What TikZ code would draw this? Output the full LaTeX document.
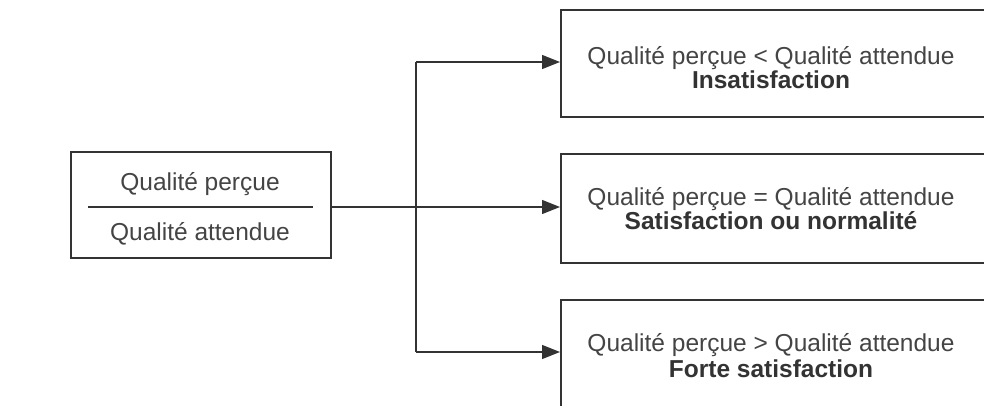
\documentclass[tikz,border=0pt]{standalone}
\usepackage{fontspec}
\setmainfont{Liberation Sans}
\usetikzlibrary{arrows.meta}
\definecolor{ink}{HTML}{333333}
\definecolor{txt}{HTML}{444444}
\tikzset{
  box/.style={draw=ink, line width=2pt, anchor=west, inner sep=0pt},
  label/.style={anchor=base, inner sep=0pt, text=txt, font=\fontsize{24.5}{26}\selectfont},
  strong/.style={label, text=ink, font=\fontsize{24.5}{26}\selectfont\bfseries},
  link/.style={draw=ink, line width=1.4pt},
  arrow/.style={link, -{Triangle[length=18pt,width=14pt]}}
}
\begin{document}
\begin{tikzpicture}[x=1pt,y=-1pt]
  \useasboundingbox (0,0) rectangle (984,406);
  \clip (0,0) rectangle (984,406);
  \fill[white] (0,0) rectangle (984,406);

  % ratio box on the left
  \node[box, minimum width=260pt, minimum height=106pt] (ratio) at (70,205) {};
  \node[label] (num) at (200,190) {Qualité perçue};
  \node[label] (den) at (200,240) {Qualité attendue};
  \coordinate (barL) at (88,207);
  \coordinate (barR) at (313,207);
  \draw[ink, line width=2.6pt] (barL) -- (barR);

  % outcome boxes, running off the right edge
  \node[box, minimum width=430pt, minimum height=107pt] (low) at (560,63.5) {};
  \node[box, minimum width=430pt, minimum height=109pt] (equal) at (560,208.5) {};
  \node[box, minimum width=430pt, minimum height=112pt] (high) at (560,356) {};

  \node[label] (lowA) at (771,65) {Qualité perçue < Qualité attendue};
  \node[strong] (lowB) at (771,89) {Insatisfaction};
  \node[label] (eqA) at (771,205) {Qualité perçue = Qualité attendue};
  \node[strong] (eqB) at (771,229) {Satisfaction ou normalité};
  \node[label] (hiA) at (771,351) {Qualité perçue > Qualité attendue};
  \node[strong] (hiB) at (771,377) {Forte satisfaction};

  % connectors
  \coordinate (split) at (416,207);
  \coordinate (upper) at (416,62);
  \coordinate (lower) at (416,352);
  \draw[arrow] (ratio.east |- split) -- (equal.west |- split);
  \draw[link] (upper) -- (lower);
  \draw[arrow] (upper) -- (low.west |- upper);
  \draw[arrow] (lower) -- (high.west |- lower);
\end{tikzpicture}
\end{document}
